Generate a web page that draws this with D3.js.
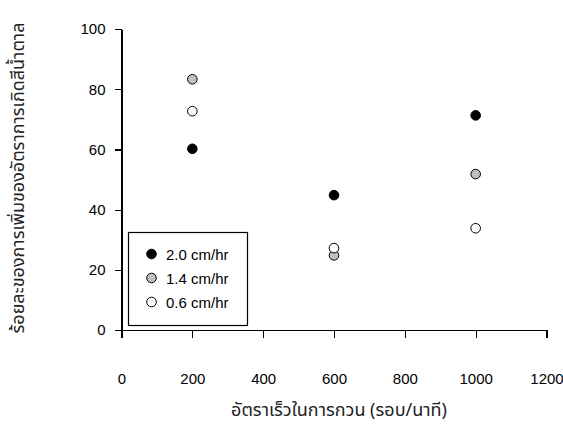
<!DOCTYPE html>
<head>
<meta charset="utf-8">
<title>Scatter</title>
<script type="text/javascript" src="https://cdn.jsdelivr.net/npm/d3@7"></script>
<style>
	body { margin: 0; background: #fff; }
	.axis text {
		font: 15px "Liberation Sans", Arial, sans-serif;
		fill: #000;
	}
	.axis path,
	.axis line {
		fill: none;
		stroke: #000;
		stroke-width: 1.2;
		shape-rendering: crispEdges;
	}
	.title { font-size: 18px; font-weight: 400; font-family: "Noto Sans Thai", "Noto Sans Thai UI", Loma, Garuda, Tahoma, sans-serif; fill: #222; }
	.legend text { font: 15px "Liberation Sans", Arial, sans-serif; fill: #000; }
</style>
</head>

<body>
<script>
var width = 563;
var height = 425;
var margin = {top: 29, bottom: 95, left: 121.5, right: 16.5};

var svg = d3.select('body').append("svg")
		.attr("width", width)
		.attr("height", height)

// data
var speeds = [200, 600, 1000];
var series = ["2.0 cm/hr", "1.4 cm/hr", "0.6 cm/hr"];
var fills = ["#000000", "#c0c0c0", "#ffffff"];
var v20 = [60.2, 44.8, 71.3];
var v14 = [83.3, 24.8, 51.8];
var v06 = [72.7, 27.2, 33.8];
var xTicks = [0, 200, 400, 600, 800, 1000, 1200];
var yTicks = [0, 20, 40, 60, 80, 100];

var values = [v20, v14, v06];

// scales
var x = d3.scaleLinear().domain([0, 1200]).range([margin.left, width - margin.right]);
var y = d3.scaleLinear().domain([0, 100]).range([height - margin.bottom, margin.top]);

// axes
svg.append("g")
	.attr("class", "axis")
	.attr("transform", "translate(0," + y(0) + ")")
	.call(d3.axisBottom(x).tickValues(xTicks).tickSize(8).tickSizeOuter(0).tickPadding(35).tickFormat(d3.format("d")));

svg.append("g")
	.attr("class", "axis")
	.attr("transform", "translate(" + x(0) + ",0)")
	.call(d3.axisLeft(y).tickValues(yTicks).tickSize(7).tickSizeOuter(0).tickPadding(9));

// points
series.forEach(function(s, i) {
	svg.append("g").selectAll("circle").data(values[i]).enter()
		.append("circle")
		.attr("cx", function(d, j) { return x(speeds[j]); })
		.attr("cy", function(d) { return y(d); })
		.attr("r", 4.8)
		.style("fill", fills[i])
		.style("stroke", "#000")
		.style("stroke-width", 1);
});

// legend
var lg = svg.append("g").attr("class", "legend");
lg.append("rect")
	.attr("x", 128.5).attr("y", 232.5)
	.attr("width", 119).attr("height", 93)
	.style("fill", "#fff").style("stroke", "#000").style("stroke-width", 1.2);
series.forEach(function(s, i) {
	var cy = 254 + i * 24;
	lg.append("circle")
		.attr("cx", 151.5).attr("cy", cy).attr("r", 4.8)
		.style("fill", fills[i]).style("stroke", "#000");
	lg.append("text")
		.attr("x", 166).attr("y", cy + 5.5)
		.text(s);
});

// axis titles
svg.append("text")
	.attr("class", "title")
	.attr("x", 339).attr("y", 416)
	.attr("text-anchor", "middle")
	.text("อัตราเร็วในการกวน (รอบ/นาที)");

svg.append("text")
	.attr("class", "title")
	.attr("transform", "translate(24,178) rotate(-90)")
	.attr("text-anchor", "middle")
	.text("ร้อยละของการเพิ่มของอัตราการเกิดสีน้ำตาล");
</script>
</body>
